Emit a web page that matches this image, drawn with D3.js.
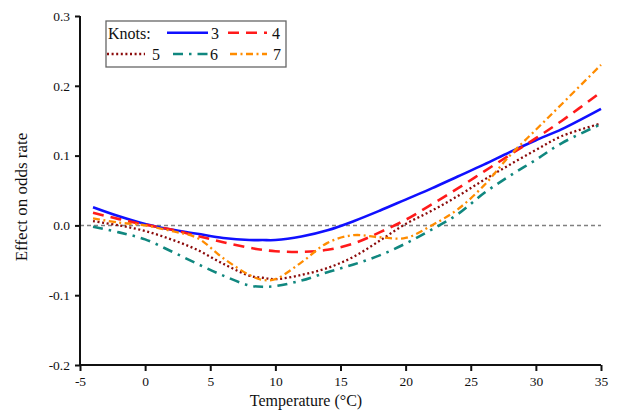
<!DOCTYPE html>
<html>
<head>
<meta charset="utf-8">
<script src="https://cdn.jsdelivr.net/npm/d3@7/dist/d3.min.js"></script>
<style>
  body { margin: 0; background: #fff; }
  text { font-family: "Liberation Serif", "Times New Roman", serif; fill: #111; }
</style>
</head>
<body>
<svg id="chart" width="617" height="411"></svg>
<script>
// temperatures (°C) shared by every spline
var temps = [-4, -2, 0, 2, 4, 6, 8, 9, 10, 12, 14, 16, 18, 20, 22, 24, 26, 28, 30, 32, 35];

var knots3 = [0.026, 0.013, 0.002, -0.006, -0.012, -0.018, -0.021, -0.021, -0.021, -0.016, -0.007, 0.006, 0.021, 0.037, 0.053, 0.070, 0.087, 0.105, 0.122, 0.138, 0.167];
var knots4 = [0.018, 0.009, 0.001, -0.006, -0.015, -0.024, -0.032, -0.035, -0.037, -0.038, -0.035, -0.026, -0.010, 0.008, 0.030, 0.053, 0.077, 0.101, 0.125, 0.150, 0.191];
var knots5 = [0.006, 0.000, -0.008, -0.020, -0.035, -0.055, -0.072, -0.075, -0.077, -0.071, -0.061, -0.045, -0.022, 0.002, 0.021, 0.042, 0.065, 0.087, 0.108, 0.128, 0.146];
var knots6 = [-0.002, -0.010, -0.020, -0.037, -0.055, -0.072, -0.086, -0.088, -0.087, -0.079, -0.067, -0.056, -0.043, -0.026, -0.006, 0.016, 0.046, 0.071, 0.094, 0.118, 0.145];
var knots7 = [0.010, 0.004, 0.000, -0.008, -0.018, -0.047, -0.071, -0.078, -0.077, -0.053, -0.025, -0.014, -0.017, -0.018, 0.000, 0.023, 0.057, 0.100, 0.137, 0.174, 0.230];

var xTicks = [-5, 0, 5, 10, 15, 20, 25, 30, 35];
var yTicks = [-0.2, -0.1, 0.0, 0.1, 0.2, 0.3];

var series = [
  {name: '3', values: knots3, color: '#1010ff', width: 2.6, dash: null},
  {name: '4', values: knots4, color: '#ff1a1a', width: 2.6, dash: '11,7'},
  {name: '5', values: knots5, color: '#8b0a0a', width: 2.3, dash: '2,2.6'},
  {name: '6', values: knots6, color: '#10877f', width: 2.6, dash: '10,6,2.5,6'},
  {name: '7', values: knots7, color: '#ff8c00', width: 2.3, dash: '7,3.5,2,3.5'}
];

var svg = d3.select('#chart');

var x = d3.scaleLinear().domain([-5, 35]).range([80, 601]);
var y = d3.scaleLinear().domain([-0.2, 0.3]).range([365, 16]);

// zero reference line
svg.append('line')
  .attr('x1', x(-5)).attr('x2', x(35))
  .attr('y1', y(0)).attr('y2', y(0))
  .attr('stroke', '#808080')
  .attr('stroke-width', 1.5)
  .attr('stroke-dasharray', '4,3');

var line = d3.line()
  .x(function(d) { return x(d[0]); })
  .y(function(d) { return y(d[1]); })
  .curve(d3.curveCatmullRom.alpha(0.5));

series.forEach(function(s) {
  var pts = temps.map(function(t, i) { return [t, s.values[i]]; });
  svg.append('path')
    .attr('d', line(pts))
    .attr('fill', 'none')
    .attr('stroke', s.color)
    .attr('stroke-width', s.width)
    .attr('stroke-dasharray', s.dash);
});

// axes
var fmt = function(d) { return d3.format('.1f')(d).replace('\u2212', '-'); };

var xAxis = svg.append('g')
  .attr('transform', 'translate(0,' + y(-0.2) + ')')
  .call(d3.axisBottom(x).tickValues(xTicks).tickSize(6).tickPadding(5).tickFormat(d3.format('d')));
xAxis.selectAll('text').text(function(d) { return String(d); });

var yAxis = svg.append('g')
  .attr('transform', 'translate(' + x(-5) + ',0)')
  .call(d3.axisLeft(y).tickValues(yTicks).tickSize(5).tickPadding(5).tickFormat(fmt));

[xAxis, yAxis].forEach(function(a) {
  a.select('.domain').attr('stroke', '#111').attr('stroke-width', 2);
  a.selectAll('.tick line').attr('stroke', '#111').attr('stroke-width', 2);
  a.selectAll('text')
    .style('font-family', '"Liberation Serif", serif')
    .style('font-size', '13.5px')
    .attr('fill', '#111');
});
xAxis.select('.domain').attr('d', 'M' + x(-5) + ',0H' + x(35));
yAxis.select('.domain').attr('d', 'M0,' + y(0.3) + 'V' + y(-0.2));

svg.append('text')
  .attr('x', 306).attr('y', 406)
  .attr('text-anchor', 'middle')
  .style('font-size', '16px')
  .text('Temperature (°C)');

svg.append('text')
  .attr('transform', 'translate(27,197) rotate(-90)')
  .attr('text-anchor', 'middle')
  .style('font-size', '17px')
  .text('Effect on odds rate');

// legend
var lg = svg.append('g');
lg.append('rect')
  .attr('x', 106).attr('y', 21).attr('width', 180).attr('height', 46)
  .attr('fill', '#fff').attr('stroke', '#666').attr('stroke-width', 1.3);
lg.append('text').attr('x', 108).attr('y', 38.5).style('font-size', '16px').text('Knots:');

var legendPos = [
  {x1: 167, x2: 208, ty: 32.7, lx: 211, ly: 38.5},
  {x1: 228, x2: 267, ty: 32.7, lx: 272, ly: 38.5},
  {x1: 107, x2: 145, ty: 54, lx: 152, ly: 60},
  {x1: 173, x2: 208, ty: 54, lx: 210, ly: 60},
  {x1: 230, x2: 267, ty: 54, lx: 273, ly: 60}
];
series.forEach(function(s, i) {
  var p = legendPos[i];
  lg.append('line')
    .attr('x1', p.x1).attr('x2', p.x2).attr('y1', p.ty).attr('y2', p.ty)
    .attr('stroke', s.color).attr('stroke-width', s.width)
    .attr('stroke-dasharray', s.dash);
  lg.append('text').attr('x', p.lx).attr('y', p.ly).style('font-size', '16px').text(s.name);
});
</script>
</body>
</html>
